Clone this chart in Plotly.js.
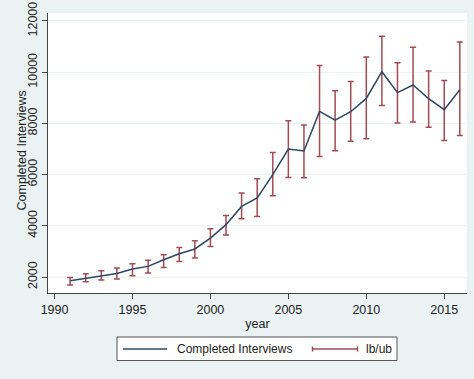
<!DOCTYPE html>
<html>
<head>
<meta charset="utf-8">
<script src="https://cdn.plot.ly/plotly-3.0.1.min.js"></script>
<style>html,body{margin:0;padding:0;background:#EAF2F3;}#chart{width:474px;height:379px;}</style>
</head>
<body>
<div id="chart"></div>
<script>
var years = [1991,1992,1993,1994,1995,1996,1997,1998,1999,2000,2001,2002,2003,2004,2005,2006,2007,2008,2009,2010,2011,2012,2013,2014,2015,2016];
var completed = [1855,1945,2040,2140,2310,2415,2675,2910,3095,3520,4045,4758,5085,5995,7000,6920,8470,8130,8455,8975,10020,9200,9500,8965,8535,9315];
var lb = [1690,1815,1880,1920,2050,2155,2375,2610,2740,3195,3640,4277,4367,5175,5890,5880,6710,6935,7300,7400,8700,8015,8055,7845,7335,7530];
var ub = [1985,2130,2245,2350,2520,2650,2870,3155,3420,3885,4405,5280,5840,6867,8105,7935,10265,9275,9640,10595,11400,10370,10970,10045,9680,11180];
var yTicks = [2000,4000,6000,8000,10000,12000];
var xTicks = [1990,1995,2000,2005,2010,2015];
var seriesName = "Completed Interviews";
var boundsName = "lb/ub";
var xTitle = "year";
var yTitle = "Completed Interviews";

var LINE = "#2c4863", BAR = "#a24b55", FONT = "Liberation Sans, Arial, sans-serif";
var L = 48, T = 13, W = 419, H = 280, FW = 474, FH = 379;
function px(x){ return (x - L) / W; }
function py(y){ return (T + H - y) / H; }

var up = ub.map(function(u,i){ return u - completed[i]; });
var dn = lb.map(function(l,i){ return completed[i] - l; });

var traces = [
  {x: years, y: completed, type: "scatter", mode: "lines", name: boundsName,
   line: {color: "rgba(0,0,0,0)", width: 0}, hoverinfo: "skip", showlegend: false,
   error_y: {type: "data", symmetric: false, array: up, arrayminus: dn, color: BAR, thickness: 1.5, width: 3}},
  {x: years, y: completed, type: "scatter", mode: "lines", name: seriesName,
   line: {color: LINE, width: 1.5}, showlegend: false}
];

var ly = 349;
var shapes = [
  {type: "rect", xref: "paper", yref: "paper", x0: px(117), x1: px(397), y0: py(337), y1: py(360.5),
   line: {color: "#555", width: 1}, fillcolor: "#ffffff", layer: "below"},
  {type: "line", xref: "paper", yref: "paper", x0: px(123), x1: px(167), y0: py(ly), y1: py(ly), line: {color: LINE, width: 1.5}},
  {type: "line", xref: "paper", yref: "paper", x0: px(312), x1: px(358), y0: py(ly), y1: py(ly), line: {color: BAR, width: 1.5}},
  {type: "line", xref: "paper", yref: "paper", x0: px(312.5), x1: px(312.5), y0: py(ly-2.5), y1: py(ly+2.5), line: {color: BAR, width: 1.5}},
  {type: "line", xref: "paper", yref: "paper", x0: px(357.5), x1: px(357.5), y0: py(ly-2.5), y1: py(ly+2.5), line: {color: BAR, width: 1.5}}
];
var annotations = [
  {xref: "paper", yref: "paper", x: px(175), y: py(ly), xanchor: "left", yanchor: "middle", showarrow: false,
   text: seriesName, font: {family: FONT, size: 12, color: "#222"}},
  {xref: "paper", yref: "paper", x: px(364), y: py(ly), xanchor: "left", yanchor: "middle", showarrow: false,
   text: boundsName, font: {family: FONT, size: 12, color: "#222"}},
  {xref: "paper", yref: "paper", x: px(21.5), y: py(151), xanchor: "center", yanchor: "middle", showarrow: false,
   textangle: -90, text: yTitle, font: {family: FONT, size: 12.5, color: "#222"}}
];

var layout = {
  width: FW, height: FH,
  margin: {l: L, r: FW - L - W, t: T, b: FH - T - H, pad: 0},
  paper_bgcolor: "#EAF2F3", plot_bgcolor: "#ffffff",
  font: {family: FONT, size: 12, color: "#222"},
  showlegend: false,
  xaxis: {range: [1989.58, 2016.46], tickvals: xTicks, ticktext: xTicks.map(String),
    ticks: "outside", ticklen: 5, tickcolor: "#444", tickwidth: 1,
    showline: true, linecolor: "#444", linewidth: 1, showgrid: false, zeroline: false,
    tickfont: {family: FONT, size: 12.5, color: "#222"},
    title: {text: xTitle, font: {family: FONT, size: 12.5, color: "#222"}, standoff: 3}},
  yaxis: {range: [1375, 12312], tickvals: yTicks, ticktext: yTicks.map(String), tickangle: -90,
    ticks: "outside", ticklen: 5, tickcolor: "#444", tickwidth: 1,
    showline: true, linecolor: "#444", linewidth: 1, showgrid: true, gridcolor: "#EAF2F3", gridwidth: 1, zeroline: false,
    tickfont: {family: FONT, size: 12.5, color: "#222"}},
  shapes: shapes,
  annotations: annotations
};

Plotly.newPlot("chart", traces, layout, {displayModeBar: false, staticPlot: true});
</script>
</body>
</html>
